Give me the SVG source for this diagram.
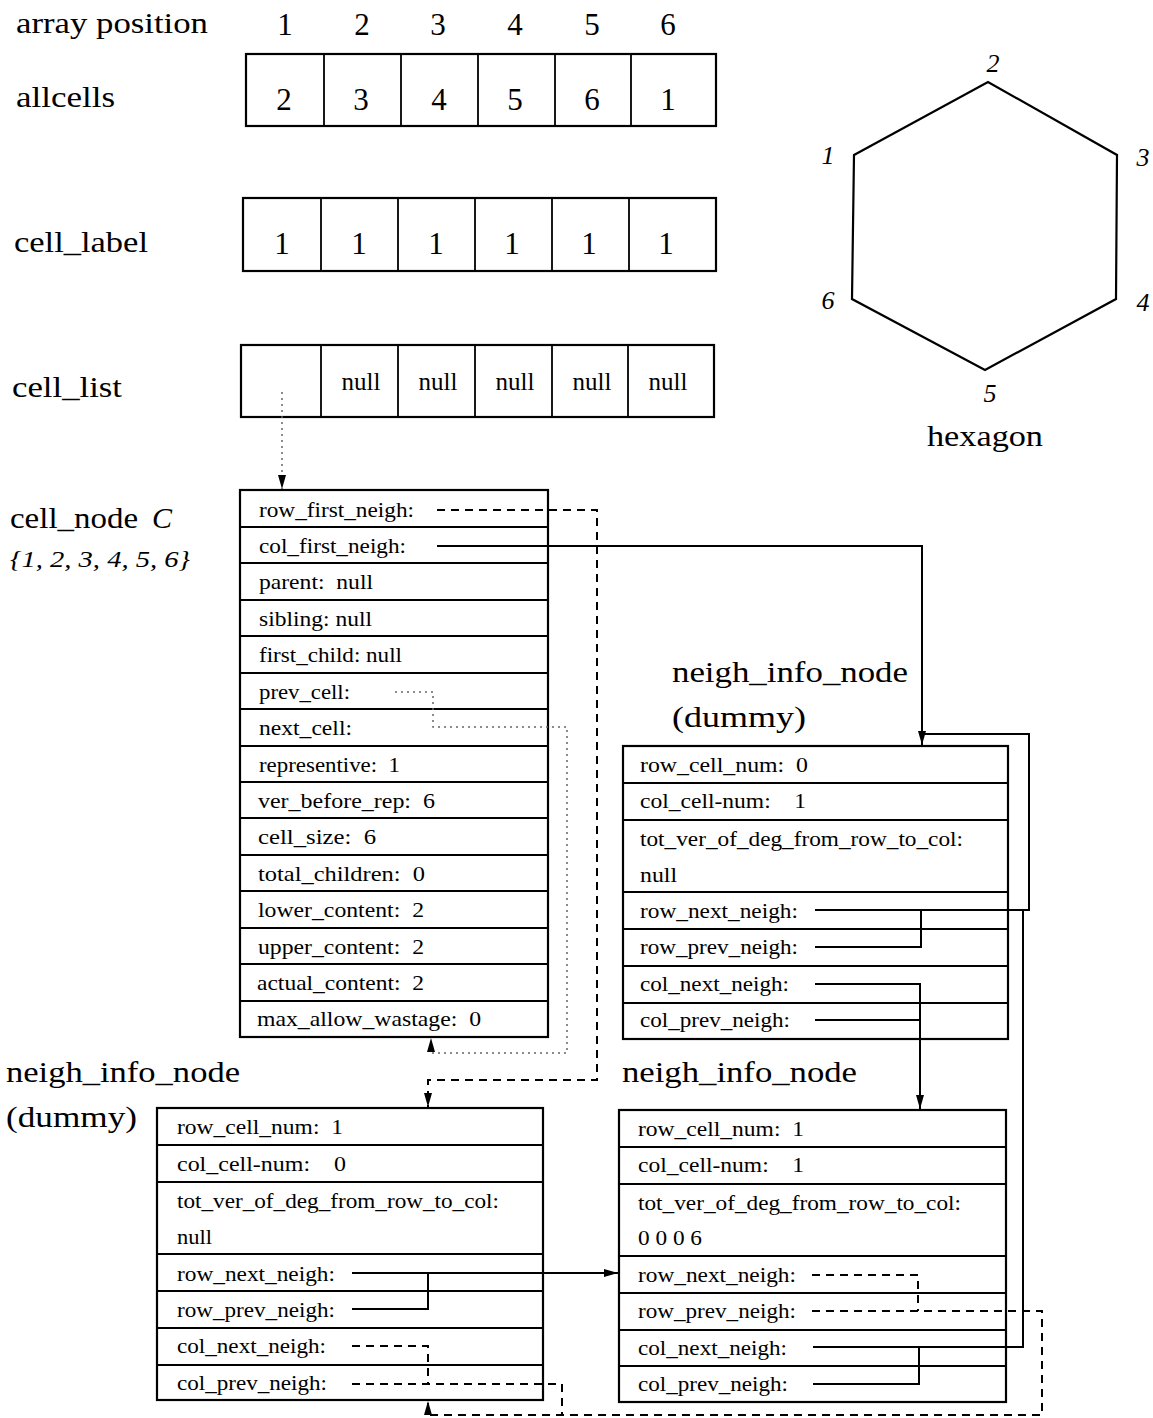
<svg xmlns="http://www.w3.org/2000/svg" width="1153" height="1418" viewBox="0 0 1153 1418">
<style>
.bg{fill:#fff}
.box{fill:none;stroke:#000;stroke-width:2.2}
.sep{stroke:#000;stroke-width:1.8}
.lbl{font-family:"Liberation Serif",serif;font-size:30px;fill:#000}
.num{font-family:"Liberation Serif",serif;font-size:31px;fill:#000;text-anchor:middle}
.nul{font-family:"Liberation Serif",serif;font-size:25px;fill:#000;text-anchor:middle}
.it{font-family:"Liberation Serif",serif;font-style:italic;fill:#000}
.fld{font-family:"Liberation Serif",serif;font-size:21px;fill:#000;white-space:pre}
.ln{fill:none;stroke:#000;stroke-width:2}
.dash{fill:none;stroke:#000;stroke-width:2;stroke-dasharray:8 6}
.dot{fill:none;stroke:#666;stroke-width:1.5;stroke-dasharray:2 4}
</style>
<defs>
<marker id="ah" viewBox="0 0 14 10" refX="14" refY="5" markerWidth="14" markerHeight="10" orient="auto" markerUnits="userSpaceOnUse"><path d="M0,1 L14,5 L0,9 z" fill="#000"/></marker>
</defs>
<rect class="bg" x="0" y="0" width="1153" height="1418"/>

<g id="arrays">
<text class="lbl" x="16" y="33" textLength="192" lengthAdjust="spacingAndGlyphs">array position</text>
<text class="num" x="285" y="35">1</text><text class="num" x="362" y="35">2</text><text class="num" x="438" y="35">3</text><text class="num" x="515" y="35">4</text><text class="num" x="592" y="35">5</text><text class="num" x="668" y="35">6</text>
</g>

<g id="allcells">
<text class="lbl" x="16" y="107" textLength="99" lengthAdjust="spacingAndGlyphs">allcells</text>
<rect class="box" x="246" y="54" width="470" height="72"/>
<path class="sep" d="M324,54V126M401,54V126M478,54V126M555,54V126M631,54V126"/>
<text class="num" x="284" y="110">2</text><text class="num" x="361" y="110">3</text><text class="num" x="439" y="110">4</text><text class="num" x="515" y="110">5</text><text class="num" x="592" y="110">6</text><text class="num" x="668" y="110">1</text>
</g>

<g id="cell_label">
<text class="lbl" x="14" y="252" textLength="134" lengthAdjust="spacingAndGlyphs">cell_label</text>
<rect class="box" x="243" y="198" width="473" height="73"/>
<path class="sep" d="M321,198V271M398,198V271M475,198V271M552,198V271M629,198V271"/>
<text class="num" x="282" y="254">1</text><text class="num" x="359" y="254">1</text><text class="num" x="436" y="254">1</text><text class="num" x="512" y="254">1</text><text class="num" x="589" y="254">1</text><text class="num" x="666" y="254">1</text>
</g>

<g id="cell_list">
<text class="lbl" x="12" y="397" textLength="110" lengthAdjust="spacingAndGlyphs">cell_list</text>
<rect class="box" x="241" y="345" width="473" height="72"/>
<path class="sep" d="M321,345V417M398,345V417M475,345V417M552,345V417M628,345V417"/>
<text class="nul" x="361" y="390">null</text><text class="nul" x="438" y="390">null</text><text class="nul" x="515" y="390">null</text><text class="nul" x="592" y="390">null</text><text class="nul" x="668" y="390">null</text>
</g>

<g id="hexagon">
<polygon class="box" points="854,155 988,82 1117,155 1116,299 985,370 852,299"/>
<text class="it" font-size="26" x="993" y="72" text-anchor="middle">2</text>
<text class="it" font-size="26" x="828" y="164" text-anchor="middle">1</text>
<text class="it" font-size="26" x="1143" y="166" text-anchor="middle">3</text>
<text class="it" font-size="26" x="828" y="309" text-anchor="middle">6</text>
<text class="it" font-size="26" x="1143" y="311" text-anchor="middle">4</text>
<text class="it" font-size="26" x="990" y="402" text-anchor="middle">5</text>
<text class="lbl" x="927" y="446" textLength="116" lengthAdjust="spacingAndGlyphs">hexagon</text>
</g>

<g id="cell_node">
<text class="lbl" x="10" y="528" textLength="128" lengthAdjust="spacingAndGlyphs">cell_node</text>
<text class="it" font-size="30" x="152" y="528">C</text>
<text class="it" font-size="24" x="10" y="567" textLength="180" lengthAdjust="spacingAndGlyphs">{1, 2, 3, 4, 5, 6}</text>
<rect class="box" x="240" y="490" width="308" height="547"/>
<path class="sep" d="M240,527H548M240,563H548M240,600H548M240,636H548M240,673H548M240,709H548M240,746H548M240,782H548M240,818H548M240,855H548M240,891H548M240,928H548M240,964H548M240,1001H548"/>
<text class="fld" x="259" y="517" textLength="155" lengthAdjust="spacingAndGlyphs">row_first_neigh:</text>
<text class="fld" x="259" y="553" textLength="147" lengthAdjust="spacingAndGlyphs">col_first_neigh:</text>
<text class="fld" x="259" y="589" textLength="114" lengthAdjust="spacingAndGlyphs">parent:  null</text>
<text class="fld" x="259" y="626" textLength="113" lengthAdjust="spacingAndGlyphs">sibling: null</text>
<text class="fld" x="259" y="662" textLength="143" lengthAdjust="spacingAndGlyphs">first_child: null</text>
<text class="fld" x="259" y="699" textLength="91" lengthAdjust="spacingAndGlyphs">prev_cell:</text>
<text class="fld" x="259" y="735" textLength="93" lengthAdjust="spacingAndGlyphs">next_cell:</text>
<text class="fld" x="259" y="772" textLength="141" lengthAdjust="spacingAndGlyphs">representive:  1</text>
<text class="fld" x="258" y="808" textLength="177" lengthAdjust="spacingAndGlyphs">ver_before_rep:  6</text>
<text class="fld" x="258" y="844" textLength="118" lengthAdjust="spacingAndGlyphs">cell_size:  6</text>
<text class="fld" x="258" y="881" textLength="167" lengthAdjust="spacingAndGlyphs">total_children:  0</text>
<text class="fld" x="258" y="917" textLength="166" lengthAdjust="spacingAndGlyphs">lower_content:  2</text>
<text class="fld" x="258" y="954" textLength="166" lengthAdjust="spacingAndGlyphs">upper_content:  2</text>
<text class="fld" x="257" y="990" textLength="167" lengthAdjust="spacingAndGlyphs">actual_content:  2</text>
<text class="fld" x="257" y="1026" textLength="224" lengthAdjust="spacingAndGlyphs">max_allow_wastage:  0</text>
</g>

<g id="neigh_dummy_col">
<text class="lbl" x="672" y="682" textLength="236" lengthAdjust="spacingAndGlyphs">neigh_info_node</text>
<text class="lbl" x="672" y="727" textLength="134" lengthAdjust="spacingAndGlyphs">(dummy)</text>
<rect class="box" x="623" y="746" width="385" height="293"/>
<path class="sep" d="M623,783H1008M623,820H1008M623,892H1008M623,929H1008M623,966H1008M623,1003H1008"/>
<text class="fld" x="640" y="772" textLength="168" lengthAdjust="spacingAndGlyphs">row_cell_num:  0</text>
<text class="fld" x="640" y="808" textLength="166" lengthAdjust="spacingAndGlyphs">col_cell-num:    1</text>
<text class="fld" x="640" y="846" textLength="323" lengthAdjust="spacingAndGlyphs">tot_ver_of_deg_from_row_to_col:</text>
<text class="fld" x="640" y="882" textLength="37" lengthAdjust="spacingAndGlyphs">null</text>
<text class="fld" x="640" y="918" textLength="158" lengthAdjust="spacingAndGlyphs">row_next_neigh:</text>
<text class="fld" x="640" y="954" textLength="158" lengthAdjust="spacingAndGlyphs">row_prev_neigh:</text>
<text class="fld" x="640" y="991" textLength="149" lengthAdjust="spacingAndGlyphs">col_next_neigh:</text>
<text class="fld" x="640" y="1027" textLength="150" lengthAdjust="spacingAndGlyphs">col_prev_neigh:</text>
</g>

<g id="neigh_dummy_row">
<text class="lbl" x="6" y="1082" textLength="234" lengthAdjust="spacingAndGlyphs">neigh_info_node</text>
<text class="lbl" x="6" y="1127" textLength="131" lengthAdjust="spacingAndGlyphs">(dummy)</text>
<rect class="box" x="157" y="1108" width="386" height="292"/>
<path class="sep" d="M157,1145H543M157,1182H543M157,1254H543M157,1291H543M157,1328H543M157,1365H543"/>
<text class="fld" x="177" y="1134" textLength="166" lengthAdjust="spacingAndGlyphs">row_cell_num:  1</text>
<text class="fld" x="177" y="1171" textLength="169" lengthAdjust="spacingAndGlyphs">col_cell-num:    0</text>
<text class="fld" x="177" y="1208" textLength="322" lengthAdjust="spacingAndGlyphs">tot_ver_of_deg_from_row_to_col:</text>
<text class="fld" x="177" y="1244" textLength="35" lengthAdjust="spacingAndGlyphs">null</text>
<text class="fld" x="177" y="1281" textLength="158" lengthAdjust="spacingAndGlyphs">row_next_neigh:</text>
<text class="fld" x="177" y="1317" textLength="158" lengthAdjust="spacingAndGlyphs">row_prev_neigh:</text>
<text class="fld" x="177" y="1353" textLength="149" lengthAdjust="spacingAndGlyphs">col_next_neigh:</text>
<text class="fld" x="177" y="1390" textLength="150" lengthAdjust="spacingAndGlyphs">col_prev_neigh:</text>
</g>

<g id="neigh_node">
<text class="lbl" x="622" y="1082" textLength="235" lengthAdjust="spacingAndGlyphs">neigh_info_node</text>
<rect class="box" x="619" y="1110" width="387" height="292"/>
<path class="sep" d="M619,1147H1006M619,1184H1006M619,1256H1006M619,1293H1006M619,1330H1006M619,1366H1006"/>
<text class="fld" x="638" y="1136" textLength="166" lengthAdjust="spacingAndGlyphs">row_cell_num:  1</text>
<text class="fld" x="638" y="1172" textLength="166" lengthAdjust="spacingAndGlyphs">col_cell-num:    1</text>
<text class="fld" x="638" y="1210" textLength="323" lengthAdjust="spacingAndGlyphs">tot_ver_of_deg_from_row_to_col:</text>
<text class="fld" x="638" y="1245" textLength="64" lengthAdjust="spacingAndGlyphs">0 0 0 6</text>
<text class="fld" x="638" y="1282" textLength="158" lengthAdjust="spacingAndGlyphs">row_next_neigh:</text>
<text class="fld" x="638" y="1318" textLength="158" lengthAdjust="spacingAndGlyphs">row_prev_neigh:</text>
<text class="fld" x="638" y="1355" textLength="149" lengthAdjust="spacingAndGlyphs">col_next_neigh:</text>
<text class="fld" x="638" y="1391" textLength="150" lengthAdjust="spacingAndGlyphs">col_prev_neigh:</text>
</g>

<g id="connectors">
<path class="dot" d="M282,392V489" marker-end="url(#ah)"/>
<path class="dash" d="M437,510H597V1080H428V1107" marker-end="url(#ah)"/>
<path class="ln" d="M437,546H922V745" marker-end="url(#ah)"/>
<path class="dot" d="M395,692H433V727H567V1053H431V1038" marker-end="url(#ah)"/>
<path class="ln" d="M815,910H1029V734H922"/>
<path class="ln" d="M815,947H921V910"/>
<path class="ln" d="M815,984H920V1109" marker-end="url(#ah)"/>
<path class="ln" d="M815,1020H920"/>
<path class="ln" d="M813,1347H1023V910"/>
<path class="ln" d="M813,1384H919V1347"/>
<path class="dash" d="M812,1275H918V1311"/>
<path class="dash" d="M812,1311H1042V1415H428V1401" marker-end="url(#ah)"/>
<path class="ln" d="M352,1273H618" marker-end="url(#ah)"/>
<path class="ln" d="M352,1309H428V1273"/>
<path class="dash" d="M352,1346H428V1384"/>
<path class="dash" d="M352,1384H562V1415"/>
</g>
</svg>
